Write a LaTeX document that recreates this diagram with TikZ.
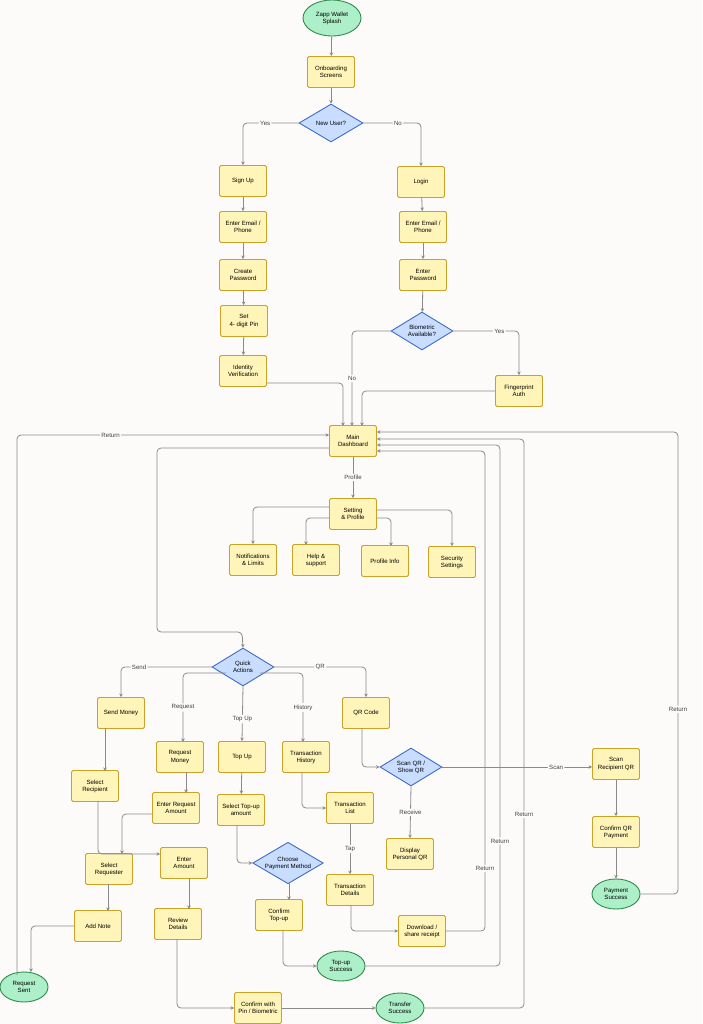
\documentclass[tikz,border=0pt]{standalone}
\usepackage{fontspec}
\setmainfont{Liberation Sans}
\usetikzlibrary{shapes.geometric,arrows.meta}
\definecolor{bg}{HTML}{FDFBFA}
\definecolor{yf}{HTML}{FFF5B8}
\definecolor{yb}{HTML}{C9A227}
\definecolor{bf}{HTML}{C8DDFF}
\definecolor{bb}{HTML}{3D6CC9}
\definecolor{gf}{HTML}{ADEFC8}
\definecolor{gb}{HTML}{2E8B4A}
\definecolor{ln}{HTML}{8A8A8A}
\begin{document}
\begin{tikzpicture}[x=1pt,y=-1pt,font=\fontsize{6.1}{7.1}\selectfont,
 box/.style={draw=yb,fill=yf,line width=0.9pt,rounded corners=1.5pt,minimum width=47pt,minimum height=31pt,align=center,inner sep=1pt},
 dia/.style={diamond,aspect=1.7,draw=bb,fill=bf,line width=0.9pt,align=center,inner sep=0.5pt,minimum width=64pt,minimum height=38pt},
 term/.style={ellipse,draw=gb,fill=gf,line width=0.9pt,align=center,minimum width=48pt,minimum height=30pt,inner sep=0pt},
 e/.style={draw=ln,line width=0.8pt,-{Stealth[length=3.5pt,width=3.5pt]},rounded corners=4pt},
 lb/.style={fill=bg,inner sep=1.5pt,text=black!75}]
\fill[bg] (0,0) rectangle (702,1024);
\useasboundingbox (0,0) rectangle (702,1024);
\node[term,minimum width=58pt,minimum height=36pt] (splash) at (332,18) {Zapp Wallet\\Splash};
\node[box] (onb) at (331,72) {Onboarding\\Screens};
\node[dia] (new) at (331,123) {New User?};
\node[box] (sign) at (243,181) {Sign Up};
\node[box] (login) at (421,182) {Login};
\node[box] (emL) at (243,227) {Enter Email /\\Phone};
\node[box] (emR) at (423,227) {Enter Email /\\Phone};
\node[box] (cpw) at (243,275) {Create\\Password};
\node[box] (epw) at (423,275) {Enter\\Password};
\node[box] (pin) at (244,321) {Set\\4- digit Pin};
\node[dia,minimum width=62pt] (bio) at (422,331) {Biometric\\Available?};
\node[box] (idv) at (243,371) {Identity\\Verification};
\node[box] (fp) at (519,391) {Fingerprint\\Auth};
\node[box] (dash) at (353,441) {Main\\Dashboard};
\node[box] (set) at (353,514) {Setting\\\& Profile};
\node[box] (noti) at (253,560) {Notifications\\\& Limits};
\node[box] (help) at (316,560) {Help \&\\support};
\node[box] (pinfo) at (385,561) {Profile Info};
\node[box] (sec) at (452,562) {Security\\Settings};
\node[dia,minimum width=62pt] (qa) at (243,667) {Quick\\Actions};
\node[box] (send) at (121,713) {Send Money};
\node[box] (reqm) at (180,757) {Request\\Money};
\node[box] (top) at (242,757) {Top Up};
\node[box] (th) at (306,757) {Transaction\\History};
\node[box] (qr) at (366,713) {QR Code};
\node[box] (srec) at (95,786) {Select\\Recipient};
\node[box] (era) at (176,808) {Enter Request\\Amount};
\node[box] (sta) at (241,810) {Select Top-up\\amount};
\node[box] (tl) at (350,808) {Transaction\\List};
\node[dia,minimum width=62pt] (scan) at (411,767) {Scan QR /\\Show QR};
\node[box] (srq) at (616,764) {Scan\\Recipient QR};
\node[box] (sreq) at (109,869) {Select\\Requester};
\node[box] (ea) at (184,863) {Enter\\Amount};
\node[dia,minimum width=62pt] (cpm) at (288,863) {Choose\\Payment Method};
\node[box] (td) at (350,890) {Transaction\\Details};
\node[box] (dpq) at (410,854) {Display\\Personal QR};
\node[box] (cqr) at (616,832) {Confirm QR\\Payment};
\node[box] (note) at (98,926) {Add Note};
\node[box] (rev) at (178,924) {Review\\Details};
\node[box] (ctu) at (279,915) {Confirm\\Top-up};
\node[box] (dl) at (422,931) {Download /\\share receipt};
\node[term] (ps) at (616,894) {Payment\\Success};
\node[term] (tus) at (341,966) {Top-up\\Success};
\node[term] (rs) at (24,987) {Request\\Sent};
\node[box] (cpb) at (258,1008) {Confirm with\\Pin / Biometric};
\node[term] (ts) at (400,1008) {Transfer\\Success};
% top flow
\draw[e] (splash) -- (onb);
\draw[e] (onb) -- (new);
\draw[e] (new.west) -| node[lb,pos=0.3]{Yes} (sign.north);
\draw[e] (new.east) -| node[lb,pos=0.3]{No} (login.north);
\draw[e] (sign) -- (emL); \draw[e] (emL) -- (cpw); \draw[e] (cpw) -- (pin); \draw[e] (pin) -- (idv);
\draw[e] (login) -- (emR); \draw[e] (emR) -- (epw); \draw[e] (epw) -- (bio);
\draw[e] (idv.east |- 0,383) -| (343,426);
\draw[e] (bio.west) -| node[lb,pos=0.75]{No} (352,426);
\draw[e] (bio.east) -| node[lb,pos=0.35]{Yes} (fp.north);
\draw[e] (fp.west) -| (362,426);
\draw[e] (dash) -- node[lb]{Profile} (set);
\draw[e] (set.west |- 0,507) -| (noti.north);
\draw[e] (set.west |- 0,518) -| (306,545);
\draw[e] (set.east |- 0,518) -| (391,546);
\draw[e] (set.east |- 0,510) -| (sec.north);
% dashboard to quick actions
\draw[e] (dash.west |- 0,448) -- (157,448) -- (157,632) -- (242,632) -- (qa.north);
\draw[e] (17,975) -- (17,435) -- node[lb,pos=0.3]{Return} (dash.west |- 0,435);
% quick actions
\draw[e] (qa.west) -| node[lb,pos=0.4]{Send} (send.north);
\draw[e] (qa.east) -| node[lb,pos=0.25]{QR} (qr.north);
\draw[e] (226,673) -| node[lb,pos=0.75]{Request} (183,742);
\draw[e] (qa.south) -- node[lb,pos=0.6]{Top Up} (top.north);
\draw[e] (260,673) -| node[lb,pos=0.75]{History} (303,742);
\draw[e] (105,728) -- (105,771);
\draw[e] (186,772) -- (186,793);
\draw[e] (top) -- (sta);
\draw[e] (302,772) |- (tl.west);
\draw[e] (98,801) -- (98,854) -- (ea.west |- 0,854);
\draw[e] (era.west |- 0,814) -| (122,854);
\draw[e] (108,884) -- (108,911);
\draw[e] (note.west) -| (31,972);
\draw[e] (189,878) -- (189,909);
\draw[e] (177,939) |- (cpb.west);
\draw[e] (cpb) -- (ts);
\draw[e] (237,825) |- (cpm.west);
\draw[e] (289,882) -- (289,900);
\draw[e] (283,930) |- (tus.west);
\draw[e] (tl) -- node[lb]{Tap} (td);
\draw[e] (351,905) |- (dl.west);
\draw[e] (362,728) |- (scan.west);
\draw[e] (scan.east) -- node[lb,pos=0.76]{Scan} (scan.east -| srq.west);
\draw[e] (scan.south) -- node[lb]{Receive} (dpq.north);
\draw[e] (srq) -- (cqr);
\draw[e] (cqr) -- (ps);
% returns
\draw[e] (ps.east) -- (678,894) -- node[lb,pos=0.4]{Return} (678,432) -- (dash.east |- 0,432);
\draw[e] (ts.east) -- (524,1008) -- node[lb,pos=0.34]{Return} (524,439) -- (dash.east |- 0,439);
\draw[e] (tus.east) -- (500,966) -- node[lb,pos=0.24]{Return} (500,445) -- (dash.east |- 0,445);
\draw[e] (dl.east) -- (485,931) -- node[lb,pos=0.13]{Return} (485,451) -- (dash.east |- 0,451);
\end{tikzpicture}
\end{document}
